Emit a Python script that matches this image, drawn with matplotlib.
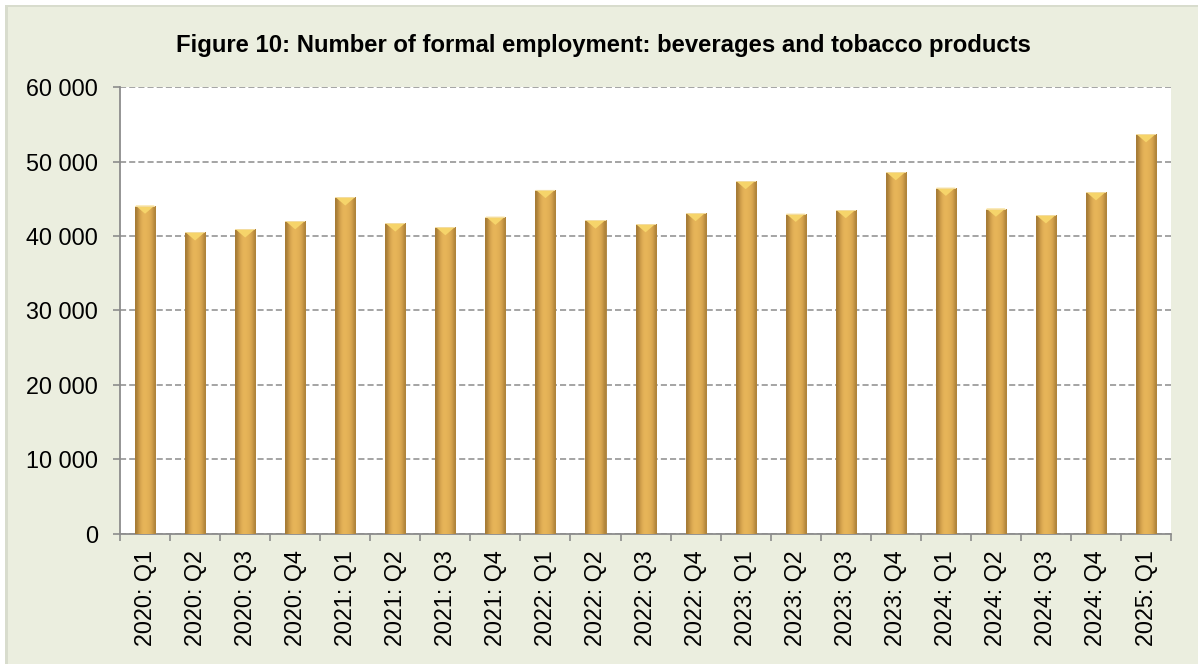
import numpy as np
import matplotlib
matplotlib.use("Agg")
import matplotlib.pyplot as plt
from matplotlib.patches import Rectangle, Polygon
from matplotlib.ticker import FuncFormatter, MultipleLocator, FixedLocator

plt.rcParams['font.family'] = ['Liberation Sans', 'DejaVu Sans']

# data
quarters = ['2020: Q1', '2020: Q2', '2020: Q3', '2020: Q4',
            '2021: Q1', '2021: Q2', '2021: Q3', '2021: Q4',
            '2022: Q1', '2022: Q2', '2022: Q3', '2022: Q4',
            '2023: Q1', '2023: Q2', '2023: Q3', '2023: Q4',
            '2024: Q1', '2024: Q2', '2024: Q3', '2024: Q4',
            '2025: Q1']
employment = [44100, 40500, 40900, 42000, 45200, 41700, 41200, 42600,
              46200, 42100, 41600, 43100, 47400, 43000, 43500, 48600,
              46500, 43700, 42800, 45900, 53700]
title = 'Figure 10: Number of formal employment: beverages and tobacco products'

fig = plt.figure(figsize=(11.98, 6.64), dpi=100)
fig.patch.set_facecolor('white')
# green chart area with a faint shadow edge
fig.patches.append(Rectangle((0.004, 0.0), 0.996, 0.993, transform=fig.transFigure,
                             facecolor='#d8dccd', edgecolor='none', zorder=-2))
fig.patches.append(Rectangle((0.007, 0.0), 0.993, 0.990, transform=fig.transFigure,
                             facecolor='#ebeedf', edgecolor='none', zorder=-1))

ax = fig.add_axes([0.1002, 0.1965, 0.8773, 0.672])
ax.set_zorder(2)
ax.set_facecolor('white')

x = np.arange(len(quarters))
w = 0.4
bars = ax.bar(x, employment, width=w, color='#d9a64f', edgecolor='#a97f3a',
              linewidth=0.6, zorder=3)

# horizontal gradient on each bar to imitate the bevel look
grad = np.array([0.0, 0.35, 0.75, 1.0, 0.9, 0.75, 0.45, 0.1])
cmap = matplotlib.colors.LinearSegmentedColormap.from_list(
    'gold', ['#a47a35', '#d9a64f', '#e8b65a'])
for b, v in zip(bars, employment):
    x0 = b.get_x()
    im = ax.imshow(grad[np.newaxis, :], extent=[x0, x0 + w, 0, v], aspect='auto',
                   cmap=cmap, vmin=0, vmax=1, zorder=3.5, interpolation='bicubic')
    im.set_clip_path(b)
    # light bevel triangle at the top
    cap = 1100
    tri = Polygon([[x0 + 0.01, v], [x0 + w - 0.01, v], [x0 + w / 2, v - cap]],
                  closed=True, facecolor='#f6d46a', edgecolor='none', zorder=4)
    ax.add_patch(tri)
    ax.add_patch(Rectangle((x0, v - 130), w, 130, facecolor='#f3dca0',
                           edgecolor='none', zorder=4))

ax.set_xlim(-0.5, len(quarters) - 0.5)
ax.set_ylim(0, 60000)
ax.yaxis.set_major_locator(MultipleLocator(10000))
ax.yaxis.set_major_formatter(FuncFormatter(lambda v, p: f'{int(v):,}'.replace(',', ' ')))
ax.grid(axis='y', linestyle=(0, (4, 2)), color='#8c8c8c', linewidth=1.1, zorder=1)

ax.set_xticks(x)
ax.set_xticklabels(quarters, rotation=90, fontsize=16.8)
ax.tick_params(axis='x', length=0, pad=12)
ax.xaxis.set_minor_locator(FixedLocator(np.arange(-0.5, len(quarters), 1.0)))
ax.tick_params(axis='x', which='minor', length=5, color='#8c8c8c', width=1.2)
ax.tick_params(axis='y', labelsize=16.8, length=5, color='#8c8c8c', width=1.2, pad=11)

for s in ['top', 'right']:
    ax.spines[s].set_visible(False)
for s in ['left', 'bottom']:
    ax.spines[s].set_color('#8c8c8c')
    ax.spines[s].set_linewidth(1.3)

fig.text(0.504, 0.932, title, ha='center', va='center', fontsize=17.2,
         fontweight='bold')

fig.savefig('out.png', dpi=100, facecolor=fig.get_facecolor())
